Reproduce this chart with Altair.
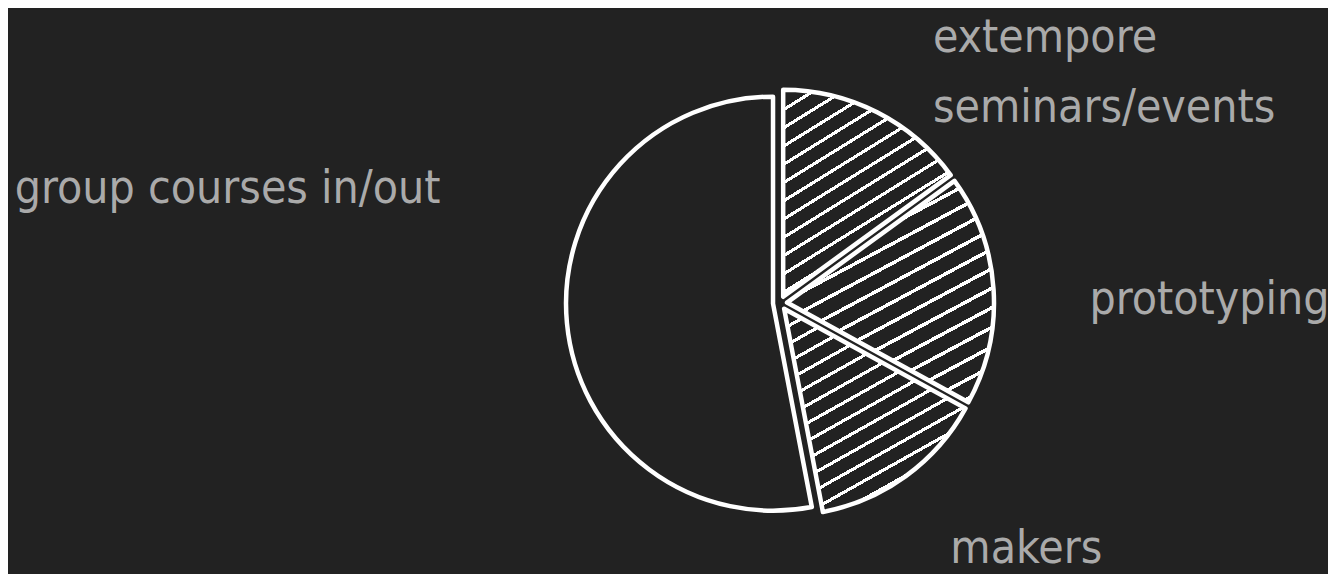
import math
import altair as alt
import pandas as pd

# ---- data (clockwise from 12 o'clock) ----
categories = ["extempore seminars/events", "prototyping", "makers", "group courses in/out"]
labels = ["extempore\nseminars/events", "prototyping", "makers", "group courses in/out"]
values = [15, 18, 14, 53]
order = [0, 1, 2, 3]

df = pd.DataFrame({"category": categories, "label": labels, "value": values, "order": order})

BG = "#222222"
WHITE = "#ffffff"
TEXT = "#aaaaaa"
FONT = "DejaVu Sans Condensed"
FS = 46
EXPLODE = 7

# hatch fill made from a striped linear gradient
N = 17
frac = 0.2
stops = []
for i in range(N):
    b = i / N
    e = (i + 1) / N
    m = b + frac / N
    stops += [
        alt.GradientStop(offset=b, color=WHITE),
        alt.GradientStop(offset=m, color=WHITE),
        alt.GradientStop(offset=m, color=BG),
        alt.GradientStop(offset=e, color=BG),
    ]
hatch = alt.LinearGradient(gradient="linear", stops=stops, x1=0, y1=0, x2=0.6, y2=1.2)

theta_scale = alt.Scale(domain=[0, 1], range=[0, 2 * math.pi])

base = (
    alt.Chart(df)
    .transform_window(cum="sum(value)", sort=[alt.SortField("order")])
    .transform_joinaggregate(total="sum(value)")
    .transform_calculate(
        start="(datum.cum - datum.value) / datum.total",
        end="datum.cum / datum.total",
        mid="(datum.cum - datum.value / 2) / datum.total",
    )
    .transform_calculate(
        cx=f"width / 2 + {EXPLODE} * sin(2 * PI * datum.mid)",
        cy=f"height / 2 - {EXPLODE} * cos(2 * PI * datum.mid)",
    )
)

arc_kw = dict(outerRadius=207, stroke=WHITE, strokeWidth=4.5, strokeJoin="round")
arc_enc = dict(
    theta=alt.Theta("start:Q", scale=theta_scale, stack=False),
    theta2="end:Q",
    x=alt.X("cx:Q", scale=None),
    y=alt.Y("cy:Q", scale=None),
)

plain = base.transform_filter("datum.category == 'group courses in/out'").mark_arc(
    fill=BG, **arc_kw
).encode(**arc_enc)

hatched = base.transform_filter("datum.category != 'group courses in/out'").mark_arc(
    fill=hatch, **arc_kw
).encode(**arc_enc)

label_style = {
    "extempore seminars/events": dict(radius=284, dx=24, dy=2, align="left"),
    "prototyping": dict(radius=310, dx=0, dy=30, align="left"),
    "makers": dict(radius=334, dx=-26, dy=-10, align="left"),
    "group courses in/out": dict(radius=341, dx=0, dy=-132, align="right"),
}

texts = []
for c in categories:
    st = label_style[c]
    texts.append(
        base.transform_filter(alt.FieldEqualPredicate(field="category", equal=c))
        .mark_text(
            radius=st["radius"], dx=st["dx"], dy=st["dy"], align=st["align"],
            baseline="alphabetic", font=FONT, fontSize=FS, color=TEXT,
            lineBreak="\n", lineHeight=70,
        )
        .encode(theta=alt.Theta("mid:Q", scale=theta_scale, stack=False), text="label:N")
    )

chart = (
    alt.layer(plain, hatched, *texts)
    .properties(
        width=1000,
        height=542,
        padding={"left": 272, "top": 24, "right": 48, "bottom": 0},
        autosize=alt.AutoSizeParams(type="none"),
        background=BG,
    )
    .configure_view(stroke=None)
)

chart.save("out.html", embed_options={"renderer": "svg", "actions": False})
